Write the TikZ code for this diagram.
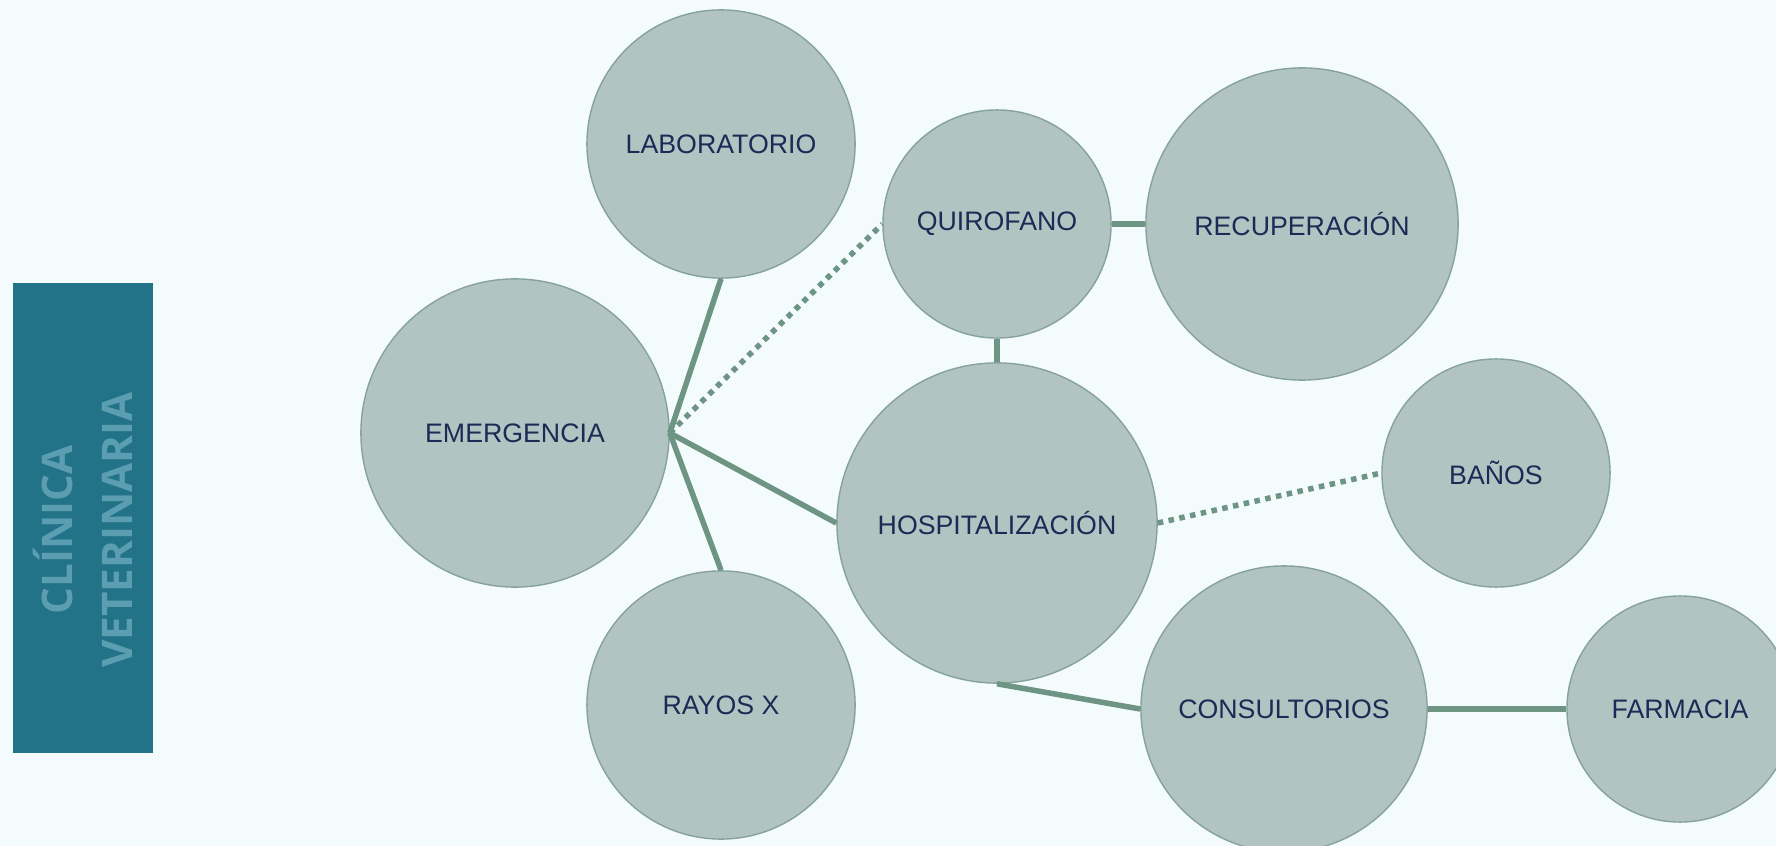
\documentclass[tikz,border=0pt]{standalone}
\usepackage{fontspec}
\setmainfont{Liberation Sans}
\newfontfamily\titlefont{Open Sans}
\usepackage{xcolor}
\definecolor{fondo}{HTML}{F4FBFC}
\definecolor{bola}{HTML}{B2C4C2}
\definecolor{borde}{HTML}{86A29D}
\definecolor{enlace}{HTML}{6E9484}
\definecolor{letra}{HTML}{1C2A56}
\definecolor{caja}{HTML}{227288}
\definecolor{titulo}{HTML}{5C9EB1}

\begin{document}
\begin{tikzpicture}[x=0.01cm, y=-0.01cm,
    area/.style={circle, draw=borde, line width=0.4pt, fill=bola, inner sep=0pt,
        text=letra, font=\fontsize{7.6pt}{9pt}\selectfont},
    liga/.style={enlace, line width=0.055cm},
    ligapunto/.style={enlace, line width=0.055cm, dash pattern=on 0.055cm off 0.055cm}]
    \useasboundingbox (0,0) rectangle (1776,846);
    \fill[fondo] (0,0) rectangle (1776,846);
    \clip (0,0) rectangle (1776,846);
    \node[fill=caja, minimum width=1.40cm, minimum height=4.70cm, inner sep=0pt]
        (caja) at (83,518) {};
    \node[rotate=90, align=center, text=titulo, inner sep=0pt,
        font=\titlefont\bfseries\fontsize{12pt}{17pt}\selectfont]
        (titulo) at (83,530) {CLÍNICA\\VETERINARIA};
    \node[area, minimum size=2.68cm] (laboratorio) at (721,144) {LABORATORIO};
    \node[area, minimum size=2.28cm] (quirofano) at (997,224) {QUIROFANO};
    \node[area, minimum size=3.12cm] (recuperacion) at (1302,224) {RECUPERACIÓN};
    \node[area, minimum size=3.08cm] (emergencia) at (515,433) {EMERGENCIA};
    \node[area, minimum size=3.20cm] (hospitalizacion) at (997,523) {HOSPITALIZACIÓN};
    \node[area, minimum size=2.28cm] (banos) at (1496,473) {BAÑOS};
    \node[area, minimum size=2.68cm] (rayos) at (721,705) {RAYOS X};
    \node[area, minimum size=2.86cm] (consultorios) at (1284,709) {CONSULTORIOS};
    \node[area, minimum size=2.26cm] (farmacia) at (1680,709) {FARMACIA};
    \draw[liga] (emergencia.east) -- (laboratorio.south);
    \draw[liga] (emergencia.east) -- (rayos.north);
    \draw[liga] (emergencia.east) -- (hospitalizacion.west);
    \draw[ligapunto] (emergencia.east) -- (quirofano.west);
    \draw[liga] (quirofano.south) -- (hospitalizacion.north);
    \draw[liga] (quirofano.east) -- (recuperacion.west);
    \draw[ligapunto] (hospitalizacion.east) -- (banos.west);
    \draw[liga] (hospitalizacion.south) -- (consultorios.west);
    \draw[liga] (consultorios.east) -- (farmacia.west);
\end{tikzpicture}
\end{document}
